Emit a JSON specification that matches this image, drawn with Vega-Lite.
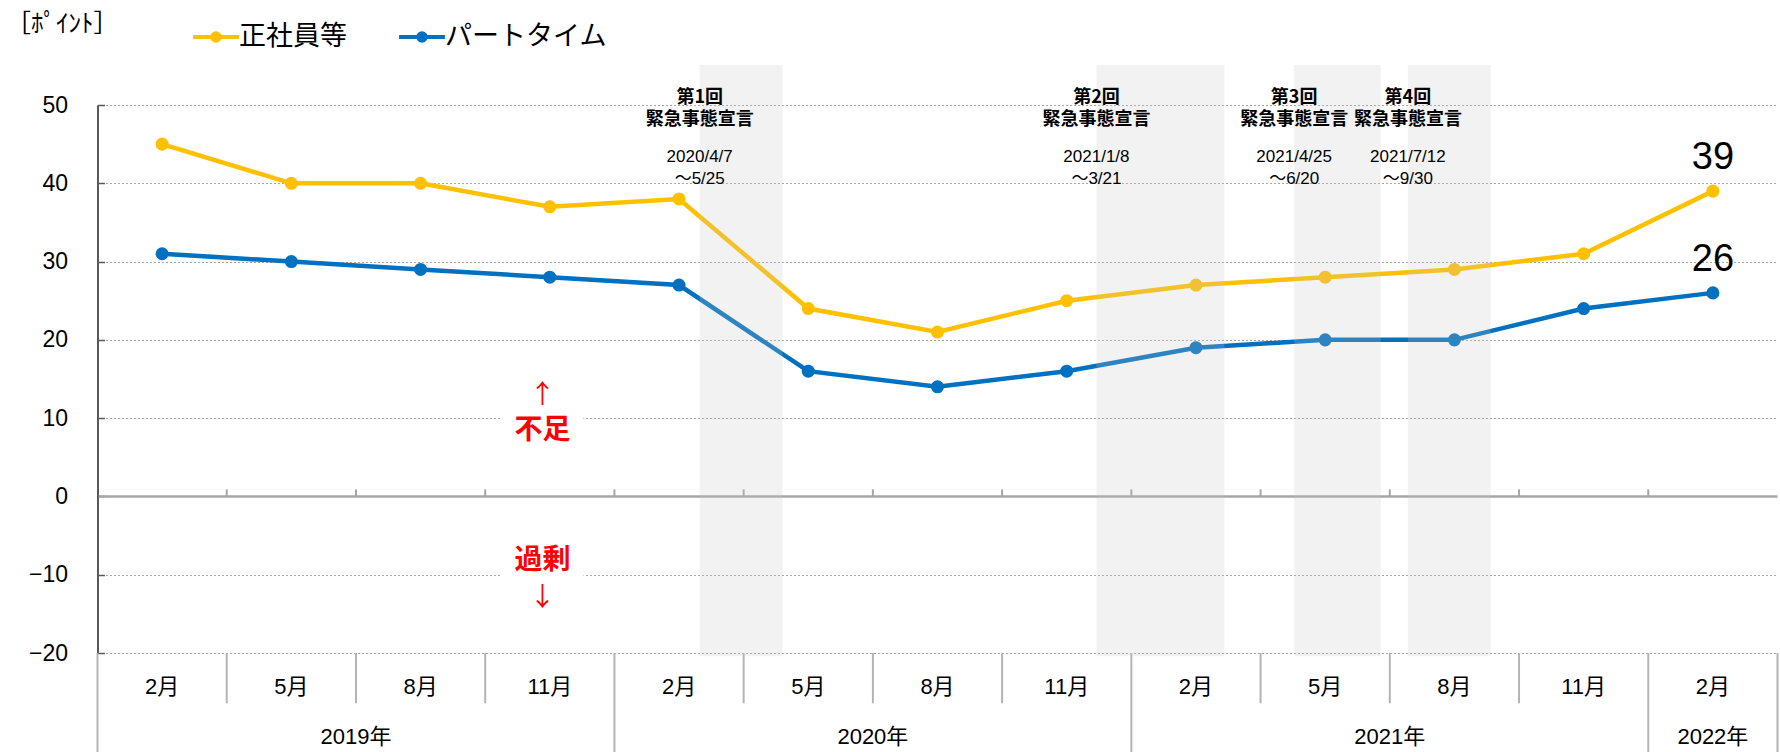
{
  "$schema": "https://vega.github.io/schema/vega-lite/v6.json",
  "width": 1680,
  "height": 548,
  "autosize": {"type": "none"},
  "padding": {"left": 97.5, "top": 105, "right": 2.5, "bottom": 99},
  "background": "white",
  "config": {
    "view": {"stroke": null},
    "font": "Liberation Sans, Noto Sans CJK JP",
    "text": {"font": "Liberation Sans, Noto Sans CJK JP"}
  },
  "datasets": {
    "survey": [
      {"n": 1, "year": "2019年", "month": "2月", "正社員等": 45, "パートタイム": 31},
      {"n": 2, "year": "2019年", "month": "5月", "正社員等": 40, "パートタイム": 30},
      {"n": 3, "year": "2019年", "month": "8月", "正社員等": 40, "パートタイム": 29},
      {"n": 4, "year": "2019年", "month": "11月", "正社員等": 37, "パートタイム": 28},
      {"n": 5, "year": "2020年", "month": "2月", "正社員等": 38, "パートタイム": 27},
      {"n": 6, "year": "2020年", "month": "5月", "正社員等": 24, "パートタイム": 16},
      {"n": 7, "year": "2020年", "month": "8月", "正社員等": 21, "パートタイム": 14},
      {"n": 8, "year": "2020年", "month": "11月", "正社員等": 25, "パートタイム": 16},
      {"n": 9, "year": "2021年", "month": "2月", "正社員等": 27, "パートタイム": 19},
      {"n": 10, "year": "2021年", "month": "5月", "正社員等": 28, "パートタイム": 20},
      {"n": 11, "year": "2021年", "month": "8月", "正社員等": 29, "パートタイム": 20},
      {"n": 12, "year": "2021年", "month": "11月", "正社員等": 31, "パートタイム": 24},
      {"n": 13, "year": "2022年", "month": "2月", "正社員等": 39, "パートタイム": 26}
    ],
    "bounds": [
      {"b": 0.5, "kind": "edge"},
      {"b": 1.5, "kind": "m"},
      {"b": 2.5, "kind": "m"},
      {"b": 3.5, "kind": "m"},
      {"b": 4.5, "kind": "y"},
      {"b": 5.5, "kind": "m"},
      {"b": 6.5, "kind": "m"},
      {"b": 7.5, "kind": "m"},
      {"b": 8.5, "kind": "y"},
      {"b": 9.5, "kind": "m"},
      {"b": 10.5, "kind": "m"},
      {"b": 11.5, "kind": "m"},
      {"b": 12.5, "kind": "y"},
      {"b": 13.5, "kind": "edge"}
    ],
    "events": [
      {"title": ["第1回", "緊急事態宣言"], "dates": ["2020/4/7", "～5/25"], "start": 5.16, "end": 5.80},
      {"title": ["第2回", "緊急事態宣言"], "dates": ["2021/1/8", "～3/21"], "start": 8.23, "end": 9.22},
      {"title": ["第3回", "緊急事態宣言"], "dates": ["2021/4/25", "～6/20"], "start": 9.76, "end": 10.43},
      {"title": ["第4回", "緊急事態宣言"], "dates": ["2021/7/12", "～9/30"], "start": 10.64, "end": 11.28}
    ]
  },
  "layer": [
    {
      "data": {"name": "bounds"},
      "transform": [{"filter": "datum.kind == 'm'"}],
      "mark": {"type": "rule", "color": "#B4B4B4", "strokeWidth": 2},
      "encoding": {
        "x": {"field": "b", "type": "quantitative", "scale": {"domain": [0.5, 13.5], "nice": false, "zero": false}, "axis": null},
        "y": {"datum": -20, "type": "quantitative", "scale": {"domain": [-20, 50], "nice": false, "zero": false}},
        "y2": {"datum": -26.42}
      }
    },
    {
      "data": {"name": "bounds"},
      "transform": [{"filter": "datum.kind != 'm'"}],
      "mark": {"type": "rule", "color": "#B4B4B4", "strokeWidth": 2},
      "encoding": {
        "x": {"field": "b", "type": "quantitative", "scale": {"domain": [0.5, 13.5], "nice": false, "zero": false}, "axis": null},
        "y": {"datum": -20, "type": "quantitative", "scale": {"domain": [-20, 50], "nice": false, "zero": false}},
        "y2": {"datum": -32.7}
      }
    },
    {
      "data": {"name": "bounds"},
      "transform": [{"filter": "datum.kind != 'edge'"}],
      "mark": {"type": "rule", "color": "#A6A6A6", "strokeWidth": 2},
      "encoding": {
        "x": {"field": "b", "type": "quantitative", "scale": {"domain": [0.5, 13.5], "nice": false, "zero": false}, "axis": null},
        "y": {"datum": 0, "type": "quantitative", "scale": {"domain": [-20, 50], "nice": false, "zero": false}},
        "y2": {"datum": 0.9}
      }
    },
    {
      "data": {"values": [{}]},
      "mark": {"type": "rule", "color": "#A6A6A6", "strokeWidth": 2.5},
      "encoding": {
        "x": {"datum": 0.51, "type": "quantitative", "scale": {"domain": [0.5, 13.5], "nice": false, "zero": false}, "axis": null},
        "x2": {"datum": 13.5},
        "y": {"datum": 0, "type": "quantitative", "scale": {"domain": [-20, 50], "nice": false, "zero": false}}
      }
    },
    {
      "data": {"name": "survey"},
      "mark": {"type": "text", "fontSize": 22, "color": "#000000", "baseline": "middle", "align": "center"},
      "encoding": {
        "x": {"field": "n", "type": "quantitative", "scale": {"domain": [0.5, 13.5], "nice": false, "zero": false}, "axis": null},
        "y": {"datum": -24.38, "type": "quantitative", "scale": {"domain": [-20, 50], "nice": false, "zero": false}},
        "text": {"field": "month"}
      }
    },
    {
      "data": {"name": "survey"},
      "transform": [{"aggregate": [{"op": "mean", "field": "n", "as": "mid"}], "groupby": ["year"]}],
      "mark": {"type": "text", "fontSize": 22, "color": "#000000", "baseline": "middle", "align": "center"},
      "encoding": {
        "x": {"field": "mid", "type": "quantitative", "scale": {"domain": [0.5, 13.5], "nice": false, "zero": false}, "axis": null},
        "y": {"datum": -30.77, "type": "quantitative", "scale": {"domain": [-20, 50], "nice": false, "zero": false}},
        "text": {"field": "year"}
      }
    },
    {
      "data": {"name": "survey"},
      "transform": [{"fold": ["正社員等", "パートタイム"], "as": ["系列", "値"]}],
      "mark": {"type": "line", "strokeWidth": 4.5, "point": {"filled": true, "size": 170}},
      "encoding": {
        "x": {"field": "n", "type": "quantitative", "scale": {"domain": [0.5, 13.5], "nice": false, "zero": false}, "axis": null},
        "y": {
          "field": "値",
          "type": "quantitative",
          "scale": {"domain": [-20, 50], "nice": false, "zero": false},
          "axis": {
            "values": [-20, -10, 0, 10, 20, 30, 40, 50],
            "grid": true,
            "gridColor": "#A6A6A6",
            "gridDash": [2, 2],
            "gridWidth": 1,
            "domainColor": "#595959",
            "domainWidth": 2,
            "tickColor": "#595959",
            "tickWidth": 1.5,
            "tickSize": -7,
            "labelPadding": 37,
            "labelFontSize": 23,
            "labelFont": "Liberation Sans",
            "labelColor": "#000000",
            "title": "［ﾎﾟｲﾝﾄ］",
            "titleFont": "Noto Sans CJK JP",
            "titleFontSize": 25,
            "titleFontWeight": "normal",
            "titleColor": "#000000",
            "titleAngle": 0,
            "titleAlign": "left",
            "titleBaseline": "middle",
            "titleX": -92,
            "titleY": -81.5
          }
        },
        "color": {
          "field": "系列",
          "type": "nominal",
          "scale": {"domain": ["正社員等", "パートタイム"], "range": ["#FFC000", "#0070C0"]},
          "legend": {
            "title": null,
            "orient": "none",
            "legendX": 93.5,
            "legendY": -93,
            "direction": "horizontal",
            "padding": 0,
            "symbolType": "M-1,0L1,0M-0.164,0A0.164,0.164,0,1,0,0.164,0A0.164,0.164,0,1,0,-0.164,0Z",
            "symbolSize": 2100,
            "symbolStrokeWidth": 4,
            "labelFont": "Noto Sans CJK JP",
            "labelFontSize": 27,
            "labelColor": "#000000",
            "labelOffset": -2,
            "labelLimit": 500,
            "columnPadding": 44,
            "encode": {"symbols": {"update": {"fill": {"scale": "color", "field": "value"}}}}
          }
        }
      }
    },
    {
      "data": {"name": "events"},
      "mark": {"type": "rect", "color": "#C6C6C6", "opacity": 0.23},
      "encoding": {
        "x": {"field": "start", "type": "quantitative", "scale": {"domain": [0.5, 13.5], "nice": false, "zero": false}, "axis": null},
        "x2": {"field": "end"},
        "y": {"datum": -20.4, "type": "quantitative", "scale": {"domain": [-20, 50], "nice": false, "zero": false}},
        "y2": {"datum": 55.1}
      }
    },
    {
      "data": {"name": "events"},
      "mark": {"type": "text", "font": "Noto Sans CJK JP", "fontWeight": "bold", "fontSize": 18, "lineHeight": 22, "color": "#000000", "align": "center", "baseline": "middle"},
      "encoding": {
        "x": {"field": "start", "type": "quantitative", "scale": {"domain": [0.5, 13.5], "nice": false, "zero": false}, "axis": null},
        "x2": {"field": "end"},
        "y": {"datum": 50.85, "type": "quantitative", "scale": {"domain": [-20, 50], "nice": false, "zero": false}},
        "text": {"field": "title"}
      }
    },
    {
      "data": {"name": "events"},
      "mark": {"type": "text", "fontSize": 17, "lineHeight": 22, "color": "#000000", "align": "center", "baseline": "middle"},
      "encoding": {
        "x": {"field": "start", "type": "quantitative", "scale": {"domain": [0.5, 13.5], "nice": false, "zero": false}, "axis": null},
        "x2": {"field": "end"},
        "y": {"datum": 43.35, "type": "quantitative", "scale": {"domain": [-20, 50], "nice": false, "zero": false}},
        "text": {"field": "dates"}
      }
    },
    {
      "data": {"values": [{}]},
      "mark": {"type": "rect", "color": "#FFFFFF"},
      "encoding": {
        "x": {"datum": 3.62, "type": "quantitative", "scale": {"domain": [0.5, 13.5], "nice": false, "zero": false}, "axis": null},
        "x2": {"datum": 4.26},
        "y": {"datum": 6.5, "type": "quantitative", "scale": {"domain": [-20, 50], "nice": false, "zero": false}},
        "y2": {"datum": 10.9}
      }
    },
    {
      "data": {"values": [{}]},
      "mark": {"type": "rect", "color": "#FFFFFF"},
      "encoding": {
        "x": {"datum": 3.62, "type": "quantitative", "scale": {"domain": [0.5, 13.5], "nice": false, "zero": false}, "axis": null},
        "x2": {"datum": 4.26},
        "y": {"datum": -6.5, "type": "quantitative", "scale": {"domain": [-20, 50], "nice": false, "zero": false}},
        "y2": {"datum": -10.9}
      }
    },
    {
      "data": {"values": [{"t": "↑"}]},
      "mark": {"type": "text", "font": "Noto Sans CJK JP", "fontSize": 26, "color": "#FF0000", "align": "center", "baseline": "middle"},
      "encoding": {
        "x": {"datum": 3.943, "type": "quantitative", "scale": {"domain": [0.5, 13.5], "nice": false, "zero": false}, "axis": null},
        "y": {"datum": 12.9, "type": "quantitative", "scale": {"domain": [-20, 50], "nice": false, "zero": false}},
        "text": {"field": "t"}
      }
    },
    {
      "data": {"values": [{"t": "不足"}]},
      "mark": {"type": "text", "font": "Noto Sans CJK JP", "fontWeight": "bold", "fontSize": 28, "color": "#FF0000", "align": "center", "baseline": "middle"},
      "encoding": {
        "x": {"datum": 3.943, "type": "quantitative", "scale": {"domain": [0.5, 13.5], "nice": false, "zero": false}, "axis": null},
        "y": {"datum": 8.4, "type": "quantitative", "scale": {"domain": [-20, 50], "nice": false, "zero": false}},
        "text": {"field": "t"}
      }
    },
    {
      "data": {"values": [{"t": "過剰"}]},
      "mark": {"type": "text", "font": "Noto Sans CJK JP", "fontWeight": "bold", "fontSize": 28, "color": "#FF0000", "align": "center", "baseline": "middle"},
      "encoding": {
        "x": {"datum": 3.943, "type": "quantitative", "scale": {"domain": [0.5, 13.5], "nice": false, "zero": false}, "axis": null},
        "y": {"datum": -8.3, "type": "quantitative", "scale": {"domain": [-20, 50], "nice": false, "zero": false}},
        "text": {"field": "t"}
      }
    },
    {
      "data": {"values": [{"t": "↓"}]},
      "mark": {"type": "text", "font": "Noto Sans CJK JP", "fontSize": 26, "color": "#FF0000", "align": "center", "baseline": "middle"},
      "encoding": {
        "x": {"datum": 3.943, "type": "quantitative", "scale": {"domain": [0.5, 13.5], "nice": false, "zero": false}, "axis": null},
        "y": {"datum": -13.0, "type": "quantitative", "scale": {"domain": [-20, 50], "nice": false, "zero": false}},
        "text": {"field": "t"}
      }
    },
    {
      "data": {"name": "survey"},
      "transform": [{"filter": "datum.n == 13"}, {"fold": ["正社員等", "パートタイム"], "as": ["系列", "値"]}],
      "mark": {"type": "text", "font": "Liberation Sans", "fontSize": 38, "color": "#000000", "align": "center", "baseline": "alphabetic", "dy": -22},
      "encoding": {
        "x": {"field": "n", "type": "quantitative", "scale": {"domain": [0.5, 13.5], "nice": false, "zero": false}, "axis": null},
        "y": {"field": "値", "type": "quantitative", "scale": {"domain": [-20, 50], "nice": false, "zero": false}},
        "text": {"field": "値", "type": "quantitative"}
      }
    }
  ]
}
